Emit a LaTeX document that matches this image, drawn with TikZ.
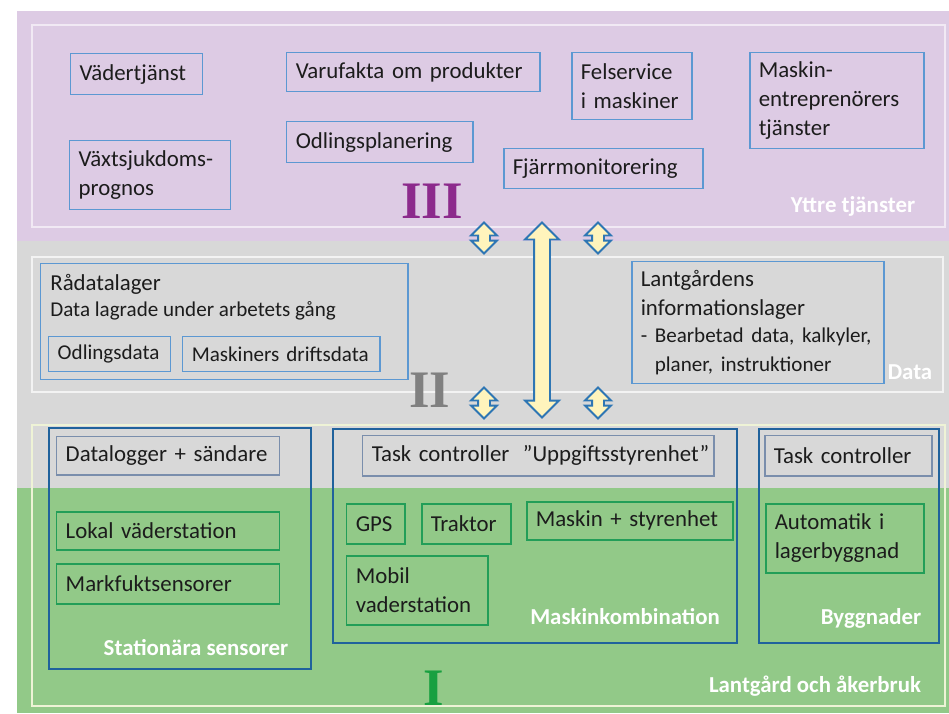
\documentclass[tikz,border=0pt]{standalone}
\usepackage{fontspec}
\setmainfont{Carlito}
\newfontfamily\numfont{Liberation Serif}
\usetikzlibrary{shapes.arrows}
\newlength{\pxu}\setlength{\pxu}{0.02cm}
\definecolor{lila}{RGB}{221,203,228}
\definecolor{lilaln}{RGB}{241,233,244}
\definecolor{graa}{RGB}{216,216,216}
\definecolor{graaln}{RGB}{243,243,243}
\definecolor{gron}{RGB}{146,201,136}
\definecolor{gronln}{RGB}{238,243,214}
\definecolor{blaln}{RGB}{92,152,210}
\definecolor{mork}{RGB}{32,98,156}
\definecolor{grbox}{RGB}{34,158,88}
\definecolor{gbln}{RGB}{122,142,172}
\definecolor{gul}{RGB}{255,244,188}
\definecolor{pil}{RGB}{46,118,180}
\definecolor{txt}{RGB}{28,28,28}
\definecolor{nrlila}{RGB}{140,42,140}
\definecolor{nrgraa}{RGB}{128,128,128}
\definecolor{nrgron}{RGB}{24,160,64}
\newcommand{\fs}{\fontsize{13}{16.5}\selectfont}
\newcommand{\fsm}{\fontsize{12}{15.6}\selectfont}
\tikzset{
  svc/.style ={rectangle, draw=blaln, line width=0.85pt, anchor=north west, align=left, inner xsep=9\pxu, inner ysep=0pt, text=txt, font=\fs},
  gbox/.style={svc, draw=gbln},
  grn/.style ={svc, draw=grbox},
  grp/.style ={rectangle, draw=mork, line width=1.4pt, anchor=north west, inner sep=0pt},
  txtn/.style={anchor=base west, inner sep=0pt, text=txt},
  lbl/.style ={anchor=base, inner sep=0pt, text=white, font=\fs\bfseries},
  num/.style ={anchor=base, inner sep=0pt, text depth=0pt, font=\numfont\bfseries\fontsize{30}{32}\selectfont},
  arr/.style ={double arrow, rotate=90, draw=pil, fill=gul, line width=1.1pt, inner xsep=0pt},
  sarr/.style={arr, minimum height=31\pxu, minimum width=24\pxu, inner ysep=5\pxu, double arrow head extend=7\pxu},
  barr/.style={arr, minimum height=195\pxu, minimum width=32\pxu, inner ysep=7\pxu, double arrow head extend=9\pxu},
}
\begin{document}
\begin{tikzpicture}[x=0.02cm, y=-0.02cm]
\useasboundingbox (0,0) rectangle (949,713);
\fill[white] (0,0) rectangle (949,713);
% bands
\fill[lila] (17,11) rectangle (949,241);
\fill[graa] (17,241) rectangle (949,488);
\fill[gron] (17,488) rectangle (949,713);
\draw[lilaln, line width=1.1pt] (32,25) rectangle (945,227);
\draw[graaln, line width=1.1pt] (32,257) rectangle (943,392);
\draw[gronln, line width=1.1pt] (32,425) rectangle (945,706);
% III: yttre tjanster
\node[svc, text width=114\pxu, minimum height=41\pxu] (vader) at (70,53) {Vädertjänst};
\node[svc, text width=235\pxu, minimum height=39\pxu] (varu) at (286,52) {Varufakta om produkter};
\node[svc, text width=102\pxu, minimum height=67\pxu] (fel) at (571,52) {Felservice\\i maskiner};
\node[svc, text width=156\pxu, minimum height=96\pxu] (entre) at (749,52) {Maskin-\\entreprenörers\\tjänster};
\node[svc, text width=143\pxu, minimum height=69\pxu] (vaxt) at (69,140) {Växtsjukdoms-\\prognos};
\node[svc, text width=168\pxu, minimum height=41\pxu] (odl) at (286,121) {Odlingsplanering};
\node[svc, text width=181\pxu, minimum height=40\pxu] (fjarr) at (503,148) {Fjärrmonitorering};
% II: data
\node[grp, draw=blaln, line width=0.85pt, minimum width=367\pxu, minimum height=116\pxu] (rad) at (40,263) {};
\node[txtn, font=\fs] (radt) at (50,290) {Rådatalager};
\node[txtn, font=\fsm] (radu) at (50,316) {Data lagrade under arbetets gång};
\node[svc, font=\fsm, text width=104\pxu, minimum height=35\pxu] (odld) at (48,336) {Odlingsdata};
\node[svc, font=\fsm, text width=179\pxu, minimum height=35\pxu] (mdd) at (182,336) {Maskiners driftsdata};
\node[svc, text width=234\pxu, minimum height=122\pxu] (lant) at (631,261)
  {Lantgårdens\\informationslager\\\fsm - Bearbetad data, kalkyler,\\\phantom{- }planer, instruktioner};
% I: lantgard
\node[grp, minimum width=262\pxu, minimum height=241\pxu] (stat) at (48,427) {};
\node[gbox, text width=205\pxu, minimum height=38\pxu] (logg) at (56,436) {Datalogger + sändare};
\node[grn, text width=205\pxu, minimum height=38\pxu] (lokal) at (56,511) {Lokal väderstation};
\node[grn, text width=205\pxu, minimum height=40\pxu] (mark) at (56,563) {Markfuktsensorer};
\node[grp, minimum width=404\pxu, minimum height=214\pxu] (mkomb) at (332,428) {};
\node[gbox, text width=333\pxu, minimum height=40\pxu] (tcu) at (362,435) {\mbox{Task controller\hspace{6\pxu} ”Uppgiftsstyrenhet”}};
\node[grn, text width=40\pxu, minimum height=40\pxu] (gps) at (346,503) {GPS};
\node[grn, text width=71\pxu, minimum height=40\pxu] (trak) at (421,503) {Traktor};
\node[grn, text width=188\pxu, minimum height=38\pxu] (mst) at (526,501) {Maskin + styrenhet};
\node[grn, text width=123\pxu, minimum height=69\pxu] (mob) at (346,555) {Mobil\\vaderstation};
\node[grp, minimum width=180\pxu, minimum height=214\pxu] (bygg) at (758,428) {};
\node[gbox, text width=149\pxu, minimum height=40\pxu] (tcb) at (764,435) {Task controller};
\node[grn, text width=140\pxu, minimum height=69\pxu] (auto) at (765,503) {Automatik i\\lagerbyggnad};
% pilar
\node[sarr] (up1) at (484,238) {};
\node[sarr] (up2) at (598,238) {};
\node[sarr] (dn1) at (484,403) {};
\node[sarr] (dn2) at (598,403) {};
\node[barr] (big) at (542,320) {};
% etiketter
\node[lbl] (lyttre) at (853,212) {Yttre tjänster};
\node[lbl] (ldata) at (910,379) {Data};
\node[lbl] (llant) at (815,692) {Lantgård och åkerbruk};
\node[lbl] (lstat) at (196,655) {Stationära sensorer};
\node[lbl] (lmk) at (625,624) {Maskinkombination};
\node[lbl] (lbyg) at (871,624) {Byggnader};
\node[num, text=nrlila] (n3) at (432,218) {III};
\node[num, text=nrgraa] (n2) at (430,407) {II};
\node[num, text=nrgron] (n1) at (434,705) {I};
\end{tikzpicture}
\end{document}
